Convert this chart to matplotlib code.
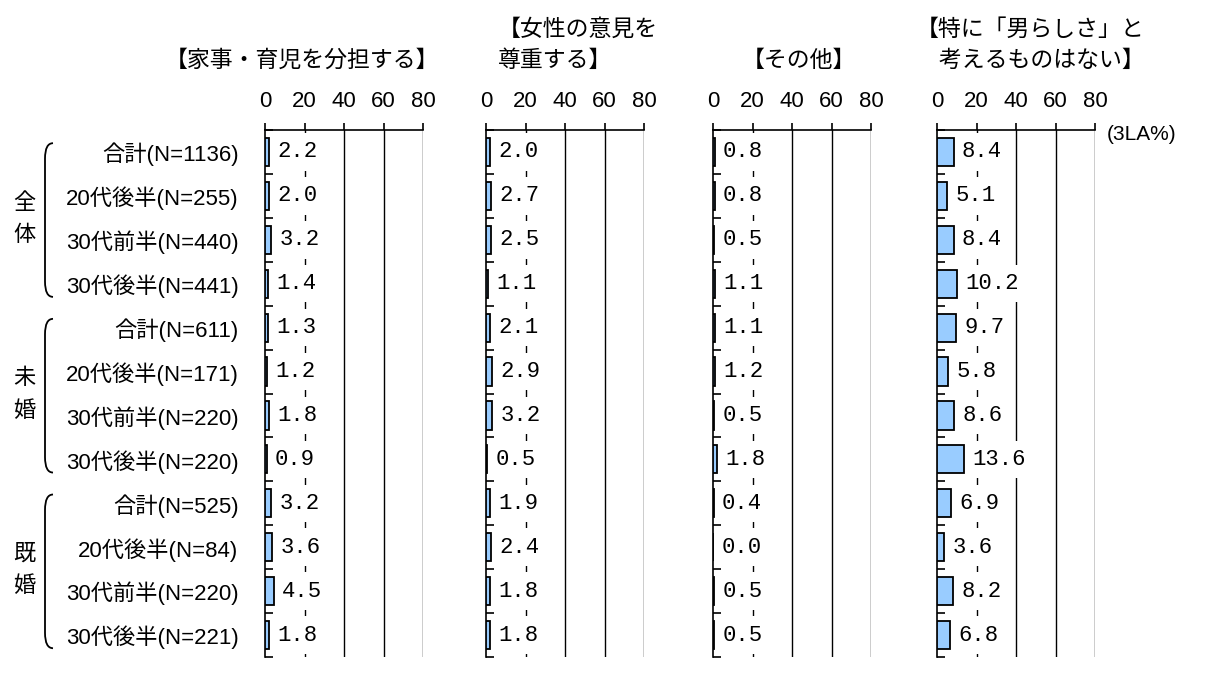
import matplotlib.pyplot as plt
import numpy as np
from matplotlib.path import Path
from matplotlib.patches import PathPatch
from matplotlib.transforms import blended_transform_factory

# data
groups = ['全体', '未婚', '既婚']
rows = ['合計(N=1136)', '20代後半(N=255)', '30代前半(N=440)', '30代後半(N=441)',
        '合計(N=611)', '20代後半(N=171)', '30代前半(N=220)', '30代後半(N=220)',
        '合計(N=525)', '20代後半(N=84)', '30代前半(N=220)', '30代後半(N=221)']
titles = ['【家事・育児を分担する】',
          '【女性の意見を\n尊重する】',
          '【その他】',
          '【特に「男らしさ」と\n\u3000考えるものはない】']
housework = [2.2, 2.0, 3.2, 1.4, 1.3, 1.2, 1.8, 0.9, 3.2, 3.6, 4.5, 1.8]
respect = [2.0, 2.7, 2.5, 1.1, 2.1, 2.9, 3.2, 0.5, 1.9, 2.4, 1.8, 1.8]
other = [0.8, 0.8, 0.5, 1.1, 1.1, 1.2, 0.5, 1.8, 0.4, 0.0, 0.5, 0.5]
nothing = [8.4, 5.1, 8.4, 10.2, 9.7, 5.8, 8.6, 13.6, 6.9, 3.6, 8.2, 6.8]
xticks = [0, 20, 40, 60, 80]
unit = '(3LA%)'

W, H = 1211, 700
def fx(px):
    return px / W
def fy(py):
    return 1 - py / H

jp = ['Liberation Sans', 'Noto Sans CJK JP']

fig = plt.figure(figsize=(W / 100, H / 100), dpi=100)

lefts = [265, 486, 713, 937]  # panel left edges in pixels
title_x = [302, 578, 799, 1030]
series = [housework, respect, other, nothing]
axes = []
for left, vals, title, tx in zip(lefts, series, titles, title_x):
    ax = fig.add_axes([fx(left), fy(657), 158 / W, 527 / H])
    axes.append(ax)
    y = np.arange(len(vals))
    ax.barh(y, vals, height=0.64, color='#99CCFF', edgecolor='black',
            linewidth=1.3, zorder=3)
    for g in xticks[1:]:
        ax.axvline(g, color='black', lw=1, zorder=1)
    # white boxes behind the numbers leave the 20-line showing only as dots
    for i, v in enumerate(vals):
        ax.annotate(f'{v:.1f}', (v, i), xytext=(6, 0), textcoords='offset points',
                    ha='left', va='center', fontsize=16, family='Liberation Mono',
                    zorder=2, annotation_clip=False,
                    bbox=dict(boxstyle='square,pad=0.37', fc='white', ec='none'))
    ax.set_xlim(0, 80)
    ax.set_ylim(len(vals) - 0.5, -0.5)
    ax.set_axisbelow(False)
    ax.xaxis.tick_top()
    ax.set_xticks(xticks)
    ax.set_xticklabels([str(t) for t in xticks], family='Liberation Sans')
    ax.tick_params(axis='x', direction='out', length=5, width=1.2, pad=8, labelsize=16)
    ax.set_yticks(np.arange(-0.5, len(vals), 1))
    ax.set_yticklabels([])
    ax.tick_params(axis='y', which='major', direction='in', length=6, width=1.2)
    for s in ['right', 'bottom']:
        ax.spines[s].set_visible(False)
    for s in ['top', 'left']:
        ax.spines[s].set_linewidth(1.2)
    fig.text(fx(tx), fy(72), title, ha='center', va='bottom', multialignment='left',
             fontsize=16.5, family='Noto Sans CJK JP', linespacing=1.45)

ax1 = axes[0]
ax1.set_yticks(np.arange(len(rows)), minor=True)
ax1.set_yticklabels(rows, minor=True, fontfamily=jp, fontsize=16)
ax1.tick_params(axis='y', which='minor', length=0, pad=19)

fig.text(fx(1107), fy(135), unit, ha='left', va='center', fontsize=15,
         family='Liberation Sans')

# group labels with brackets
trans = blended_transform_factory(fig.transFigure, ax1.transData)
x0, x1 = fx(45), fx(53)
for gi, g in enumerate(groups):
    start = gi * 4
    c = start + 1.5
    fig.text(fx(24), c - 0.36, g[0], transform=trans, ha='center', va='center',
             fontsize=16, family='Noto Sans CJK JP')
    fig.text(fx(24), c + 0.38, g[1], transform=trans, ha='center', va='center',
             fontsize=16, family='Noto Sans CJK JP')
    top, bot = start - 0.2, start + 3.3
    verts = [(x1, top), (x0, top), (x0, top + 0.35), (x0, bot - 0.35),
             (x0, bot), (x1, bot)]
    codes = [Path.MOVETO, Path.CURVE3, Path.CURVE3, Path.LINETO,
             Path.CURVE3, Path.CURVE3]
    fig.add_artist(PathPatch(Path(verts, codes), transform=trans, fill=False,
                             lw=1.3, ec='black', clip_on=False))

fig.savefig('out.png', dpi=100)
